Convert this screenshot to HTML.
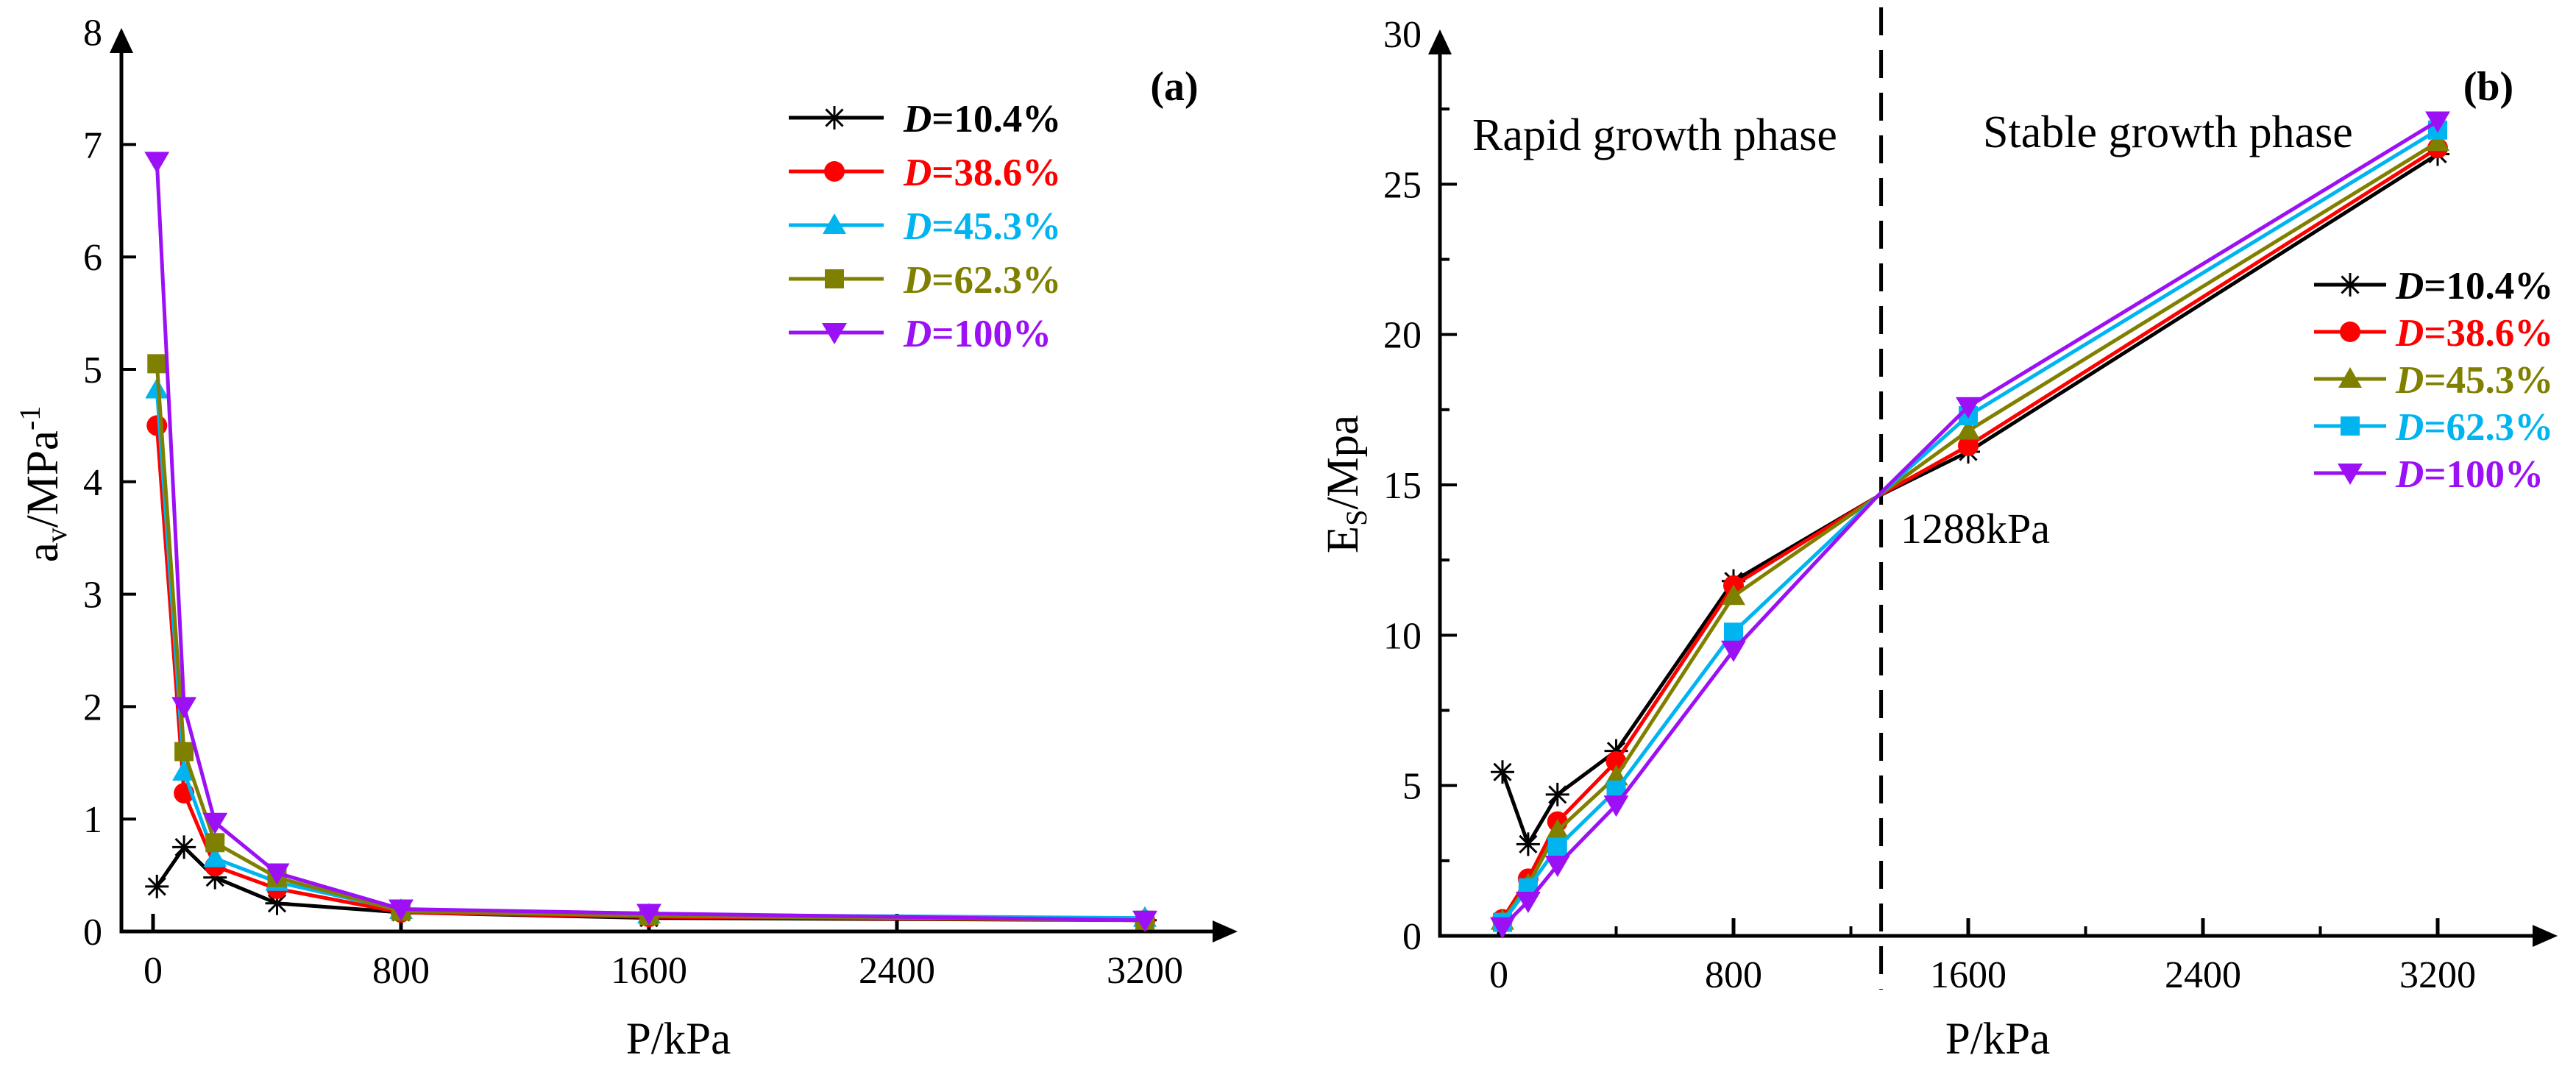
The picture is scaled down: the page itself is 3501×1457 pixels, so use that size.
<!DOCTYPE html>
<html><head><meta charset="utf-8">
<style>
html,body{margin:0;padding:0;background:#fff;}
svg, svg text{font-family:"Liberation Serif","DejaVu Serif",serif;}
</style></head>
<body>
<svg id="chart" width="3501" height="1452" viewBox="0 0 3501 1452" xmlns="http://www.w3.org/2000/svg" font-family="Liberation Serif, DejaVu Serif, serif"></svg>
<script>
// ---- data ----
const pressuresA = [12.5, 100, 200, 400, 800, 1600, 3200];
const seriesNamesA = ["D=10.4%", "D=38.6%", "D=45.3%", "D=62.3%", "D=100%"];
const avD104 = [0.40, 0.75, 0.48, 0.25, 0.17, 0.12, 0.10];
const avD386 = [4.50, 1.23, 0.58, 0.38, 0.17, 0.13, 0.10];
const avD453 = [4.82, 1.42, 0.65, 0.44, 0.19, 0.15, 0.12];
const avD623 = [5.05, 1.60, 0.79, 0.48, 0.18, 0.14, 0.10];
const avD100 = [6.85, 2.00, 0.97, 0.52, 0.20, 0.16, 0.10];
const xTicksA = [0, 800, 1600, 2400, 3200];
const yTicksA = [0, 1, 2, 3, 4, 5, 6, 7, 8];

const pressuresB = [12.5, 100, 200, 400, 800, 1288, 1600, 3200];
const seriesNamesB = ["D=10.4%", "D=38.6%", "D=45.3%", "D=62.3%", "D=100%"];
const esD104 = [5.45, 3.05, 4.70, 6.15, 11.80, 14.6, 16.10, 26.00];
const esD386 = [0.55, 1.90, 3.80, 5.80, 11.65, 14.6, 16.30, 26.20];
const esD453 = [0.50, 1.70, 3.50, 5.30, 11.30, 14.6, 16.80, 26.40];
const esD623 = [0.45, 1.60, 2.95, 4.85, 10.10, 14.6, 17.30, 26.80];
const esD100 = [0.30, 1.15, 2.35, 4.35, 9.50, 14.6, 17.60, 27.10];
const xTicksB = [0, 800, 1600, 2400, 3200];
const xMinorB = [400, 1200, 2000, 2800];
const yTicksB = [0, 5, 10, 15, 20, 25, 30];
const yMinorB = [2.5, 7.5, 12.5, 17.5, 22.5, 27.5];
const boundaryP = 1288;

const NS = "http://www.w3.org/2000/svg";
const FONT = "Liberation Serif, DejaVu Serif, serif";
const svg = document.getElementById("chart");
function mk(tag, attrs, parent) {
  const e = document.createElementNS(NS, tag);
  for (const k in attrs) e.setAttribute(k, attrs[k]);
  if (tag === "text") e.setAttribute("font-family", FONT);
  (parent || svg).appendChild(e);
  return e;
}
function marker(g, type, cx, cy, color) {
  const r = 16;
  let m;
  if (type === "star") {
    m = mk("path", {d: `M${cx-r},${cy}H${cx+r}M${cx},${cy-r}V${cy+r}M${cx-r*0.72},${cy-r*0.72}L${cx+r*0.72},${cy+r*0.72}M${cx-r*0.72},${cy+r*0.72}L${cx+r*0.72},${cy-r*0.72}`, stroke: color, "stroke-width": 3, fill: "none"}, g);
  } else if (type === "circle") {
    m = mk("circle", {cx: cx, cy: cy, r: 14, fill: color}, g);
  } else if (type === "up") {
    m = mk("polygon", {points: `${cx},${cy-16} ${cx+16},${cy+12} ${cx-16},${cy+12}`, fill: color}, g);
  } else if (type === "square") {
    m = mk("rect", {x: cx-13, y: cy-13, width: 26, height: 26, fill: color}, g);
  } else {
    m = mk("polygon", {points: `${cx-17},${cy-13} ${cx+17},${cy-13} ${cx},${cy+16}`, fill: color}, g);
  }
  
  
  return m;
}
function legendLabel(g, x, y, name, color) {
  const t = mk("text", {x: x, y: y, "font-size": 53, "font-weight": "bold", fill: color}, g);
  const s1 = mk("tspan", {"font-style": "italic"}, t); s1.textContent = "D";
  const s2 = mk("tspan", {}, t); s2.textContent = name.slice(1);
  
  
}
function arrowAxes(g, x0, yBase, yTop, xEnd) {
  const ax = mk("path", {d: `M${x0},${yTop+30}V${yBase}H${xEnd-32}`, stroke: "#000", "stroke-width": 5, fill: "none"}, g);
  
  
  const ya = mk("polygon", {points: `${x0},${yTop} ${x0+16},${yTop+34} ${x0-16},${yTop+34}`, fill: "#000"}, g);
  
  
  const xa = mk("polygon", {points: `${xEnd},${yBase} ${xEnd-34},${yBase-15} ${xEnd-34},${yBase+15}`, fill: "#000"}, g);
  
  
}

const CYAN = "#00b4f0", OLIVE = "#808000";

// ===== Panel (a) =====
(function(){
  const g = mk("g", {});
  
  
  const X0 = 208, PX = 337/800, YB = 1266, PY = 152.8;
  const xs = p => X0 + p*PX, ys = v => YB - v*PY;
  arrowAxes(g, 165, YB, 38, 1682);
  xTicksA.forEach(t => {
    const l = mk("line", {x1: xs(t), x2: xs(t), y1: YB, y2: YB-24, stroke: "#000", "stroke-width": 5}, g);
    
    
    const tx = mk("text", {x: xs(t), y: YB+70, "font-size": 52, "text-anchor": "middle"}, g);
    tx.textContent = t;
    
    
  });
  yTicksA.forEach(t => {
    if (t > 0 && t < 8) {
      const l = mk("line", {x1: 165, x2: 185, y1: ys(t), y2: ys(t), stroke: "#000", "stroke-width": 4}, g);
      
      
    }
    const tx = mk("text", {x: 139, y: ys(t)+18, "font-size": 52, "text-anchor": "end"}, g);
    tx.textContent = t;
    
    
  });
  const data = [avD104, avD386, avD453, avD623, avD100];
  const colors = ["#000000", "#ff0000", CYAN, OLIVE, "#9b10f5"];
  const types = ["star", "circle", "up", "square", "down"];
  data.forEach((vals, i) => {
    const sg = mk("g", {}, g);
    
    
    const pts = vals.map((v, j) => `${xs(pressuresA[j])},${ys(v)}`).join(" ");
    const pl = mk("polyline", {points: pts, fill: "none", stroke: colors[i], "stroke-width": 5, "stroke-linejoin": "round"}, sg);
    
    
    vals.forEach((v, j) => marker(sg, types[i], xs(pressuresA[j]), ys(v), colors[i]));
    const ly = 160 + i*73;
    const lg = mk("g", {}, g);
    
    
    mk("line", {x1: 1072, x2: 1201, y1: ly, y2: ly, stroke: colors[i], "stroke-width": 5}, lg);
    marker(lg, types[i], 1134, ly, colors[i]);
    legendLabel(lg, 1228, ly+19, seriesNamesA[i], colors[i]);
  });
  const pl = mk("text", {x: 1596, y: 136, "font-size": 56, "font-weight": "bold", "text-anchor": "middle"}, g);
  pl.textContent = "(a)";
  
  
  const xt = mk("text", {x: 922, y: 1432, "font-size": 61, "text-anchor": "middle"}, g);
  xt.textContent = "P/kPa";
  
  
  const yt = mk("text", {x: 0, y: 0, "font-size": 61, "text-anchor": "middle", transform: "translate(78,658) rotate(-90)"}, g);
  const a1 = mk("tspan", {}, yt); a1.textContent = "a";
  const a2 = mk("tspan", {"font-size": 40, dy: 12}, yt); a2.textContent = "v";
  const a3 = mk("tspan", {dy: -12}, yt); a3.textContent = "/MPa";
  const a4 = mk("tspan", {"font-size": 40, dy: -24}, yt); a4.textContent = "-1";
  
  
})();

// ===== Panel (b) =====
(function(){
  const g = mk("g", {});
  
  
  const X0 = 2037, PX = 319/800, YB = 1272, PY = (1272-46)/30;
  const xs = p => X0 + p*PX, ys = v => YB - v*PY;
  arrowAxes(g, 1957, YB, 40, 3476);
  xTicksB.forEach(t => {
    const l = mk("line", {x1: xs(t), x2: xs(t), y1: YB, y2: YB-24, stroke: "#000", "stroke-width": 5}, g);
    
    
    const tx = mk("text", {x: xs(t), y: YB+70, "font-size": 52, "text-anchor": "middle"}, g);
    tx.textContent = t;
    
    
  });
  xMinorB.forEach(t => {
    const l = mk("line", {x1: xs(t), x2: xs(t), y1: YB, y2: YB-13, stroke: "#000", "stroke-width": 4}, g);
    
    
  });
  yTicksB.forEach(t => {
    if (t > 0 && t < 30) {
      const l = mk("line", {x1: 1957, x2: 1980, y1: ys(t), y2: ys(t), stroke: "#000", "stroke-width": 4}, g);
      
      
    }
    const tx = mk("text", {x: 1932, y: ys(t)+18, "font-size": 52, "text-anchor": "end"}, g);
    tx.textContent = t;
    
    
  });
  yMinorB.forEach(t => {
    const l = mk("line", {x1: 1957, x2: 1970, y1: ys(t), y2: ys(t), stroke: "#000", "stroke-width": 4}, g);
    
    
  });
  const dl = mk("line", {x1: xs(boundaryP)+6, x2: xs(boundaryP)+6, y1: 10, y2: 1345, stroke: "#000", "stroke-width": 5, "stroke-dasharray": "38 20"}, g);
  
  
  const data = [esD104, esD386, esD453, esD623, esD100];
  const colors = ["#000000", "#ff0000", OLIVE, CYAN, "#9b10f5"];
  const types = ["star", "circle", "up", "square", "down"];
  data.forEach((vals, i) => {
    const sg = mk("g", {}, g);
    
    
    const pts = vals.map((v, j) => `${xs(pressuresB[j])},${ys(v)}`).join(" ");
    const pl = mk("polyline", {points: pts, fill: "none", stroke: colors[i], "stroke-width": 5, "stroke-linejoin": "round"}, sg);
    
    
    vals.forEach((v, j) => { if (pressuresB[j] !== boundaryP) marker(sg, types[i], xs(pressuresB[j]), ys(v), colors[i]); });
    const ly = 387 + i*64;
    const lg = mk("g", {}, g);
    
    
    mk("line", {x1: 3145, x2: 3243, y1: ly, y2: ly, stroke: colors[i], "stroke-width": 5}, lg);
    marker(lg, types[i], 3194, ly, colors[i]);
    legendLabel(lg, 3256, ly+19, seriesNamesB[i], colors[i]);
  });
  const pl = mk("text", {x: 3382, y: 136, "font-size": 56, "font-weight": "bold", "text-anchor": "middle"}, g);
  pl.textContent = "(b)";
  
  
  const r = mk("text", {x: 2001, y: 204, "font-size": 62}, g);
  r.textContent = "Rapid growth phase";
  
  
  const s = mk("text", {x: 2695, y: 200, "font-size": 62}, g);
  s.textContent = "Stable growth phase";
  
  
  const b = mk("text", {x: 2583, y: 738, "font-size": 58}, g);
  b.textContent = "1288kPa";
  
  
  const xt = mk("text", {x: 2715, y: 1432, "font-size": 61, "text-anchor": "middle"}, g);
  xt.textContent = "P/kPa";
  
  
  const yt = mk("text", {x: 0, y: 0, "font-size": 61, "text-anchor": "middle", transform: "translate(1845,658) rotate(-90)"}, g);
  const e1 = mk("tspan", {}, yt); e1.textContent = "E";
  const e2 = mk("tspan", {"font-size": 40, dy: 12}, yt); e2.textContent = "S";
  const e3 = mk("tspan", {dy: -12}, yt); e3.textContent = "/Mpa";
  
  
})();
</script>
</body></html>
